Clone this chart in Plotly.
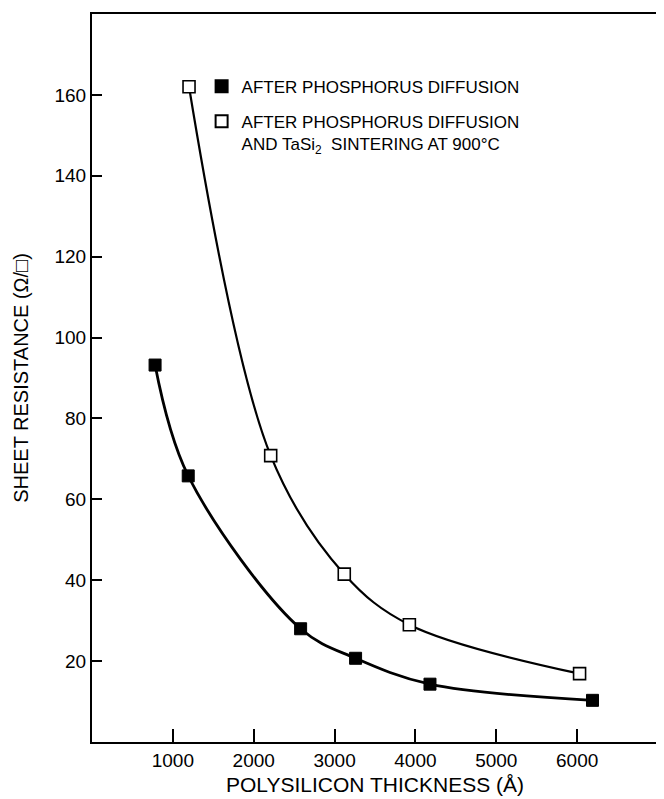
import plotly.graph_objects as go

# Data
x_diff = [780, 1190, 2580, 3260, 4180, 6190]
y_diff = [93.2, 65.8, 28.0, 20.7, 14.3, 10.3]

x_sint = [1200, 2210, 3120, 3925, 6030]
y_sint = [162.0, 70.8, 41.5, 29.0, 16.9]

x_ticks = [1000, 2000, 3000, 4000, 5000, 6000]
y_ticks = [20, 40, 60, 80, 100, 120, 140, 160]

name_diff = "AFTER PHOSPHORUS DIFFUSION"
name_sint = "AFTER PHOSPHORUS DIFFUSION<br>AND TaSi<sub>2</sub>  SINTERING AT 900°C"

FONT = "Liberation Sans"

fig = go.Figure()

# curves
fig.add_trace(go.Scatter(x=x_diff, y=y_diff, mode="lines",
                         line=dict(color="black", width=2.8, shape="spline", smoothing=1.0),
                         showlegend=False, hoverinfo="skip"))
fig.add_trace(go.Scatter(x=x_sint, y=y_sint, mode="lines",
                         line=dict(color="black", width=2.2, shape="spline", smoothing=1.0),
                         showlegend=False, hoverinfo="skip"))
# markers
fig.add_trace(go.Scatter(x=x_diff, y=y_diff, mode="markers", name=name_diff,
                         legendgroup="a",
                         marker=dict(symbol="square", size=12, color="black",
                                     line=dict(color="black", width=1))))
fig.add_trace(go.Scatter(x=x_sint, y=y_sint, mode="markers", name=name_sint,
                         legendgroup="b",
                         marker=dict(symbol="square", size=12, color="white",
                                     line=dict(color="black", width=1.6))))

axis_common = dict(showline=True, linecolor="black", linewidth=2, mirror=True,
                   showgrid=False, zeroline=False, ticks="inside",
                   tickcolor="black", tickwidth=1.5,
                   tickfont=dict(family=FONT, size=19, color="black"))

fig.update_xaxes(range=[0, 7000], tickvals=x_ticks, ticklen=13,
                 title=dict(text="POLYSILICON THICKNESS (Å)",
                            font=dict(family=FONT, size=21, color="black"), standoff=8),
                 **axis_common)
fig.update_yaxes(range=[0, 180], tickvals=y_ticks, ticklen=10,
                 title=dict(text="SHEET RESISTANCE (Ω/□)",
                            font=dict(family=FONT, size=20, color="black"), standoff=20),
                 **axis_common)

fig.update_layout(
    width=656, height=791,
    margin=dict(l=84, r=4, t=5, b=57),
    paper_bgcolor="white", plot_bgcolor="white",
    font=dict(family=FONT, color="black"),
    legend=dict(x=(202 - 92) / 568, y=0.925, xanchor="left", yanchor="top",
                font=dict(family=FONT, size=17, color="black"),
                bgcolor="rgba(0,0,0,0)", valign="top", tracegroupgap=10,
                itemsizing="constant"),
)

fig.write_html("out.html")
